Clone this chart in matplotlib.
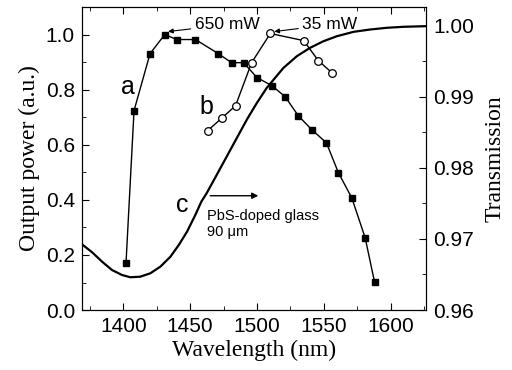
import numpy as np
import matplotlib
matplotlib.use("Agg")
import matplotlib.pyplot as plt
from matplotlib.ticker import MultipleLocator

# curve a: output power, filled squares
wl_a = [1402, 1408, 1420, 1431, 1440, 1454, 1471, 1481, 1490, 1500,
        1511, 1521, 1531, 1541, 1552, 1561, 1571, 1581, 1588]
pow_a = [0.171, 0.724, 0.931, 1.0, 0.982, 0.982, 0.931, 0.898, 0.898, 0.844,
         0.815, 0.775, 0.705, 0.655, 0.607, 0.498, 0.407, 0.262, 0.102]

# curve b: output power, open circles
wl_b = [1463, 1474, 1484, 1496, 1510, 1535, 1546, 1556]
pow_b = [0.651, 0.698, 0.742, 0.898, 1.004, 0.978, 0.905, 0.862]

# curve c: transmission of PbS-doped glass
wl_c = [1369, 1376.6, 1384.1, 1391.5, 1399, 1405.2, 1412.7, 1420.2, 1427.7,
        1435.2, 1441.5, 1447.7, 1453.9, 1458.4, 1462.4, 1469.9, 1477.4, 1484.9,
        1492.4, 1499.9, 1507.3, 1519.8, 1529.8, 1539.7, 1549.7, 1559.7, 1572.2,
        1584.7, 1597.2, 1609.6, 1626.5]
tr_c = [0.96925, 0.96813, 0.96680, 0.96563, 0.96493, 0.96461, 0.96469, 0.96517,
        0.96610, 0.96749, 0.96915, 0.97103, 0.97338, 0.97525, 0.97644, 0.97901,
        0.98159, 0.98418, 0.98676, 0.98911, 0.99123, 0.99404, 0.99568, 0.99686,
        0.99779, 0.99849, 0.99911, 0.99944, 0.99968, 0.99982, 0.99991]

sans = ['Liberation Sans', 'DejaVu Sans']
serif = ['Liberation Serif', 'DejaVu Serif']
plt.rcParams['font.family'] = sans

fig = plt.figure(figsize=(5.12, 3.7), dpi=100)
ax = fig.add_axes([0.160, 0.162, 0.672, 0.819])
ax2 = ax.twinx()

ax.plot(wl_a, pow_a, '-', color='black', lw=1, marker='s', ms=4.5,
        mfc='black', mec='black')
ax.plot(wl_b, pow_b, '-', color='black', lw=1, marker='o', ms=5.5,
        mfc='white', mec='black', mew=0.9)
ax2.plot(wl_c, tr_c, '-', color='black', lw=1.6)

ax.set_xlim(1369, 1626.5)
ax.set_ylim(0, 1.1)
ax2.set_ylim(0.96, 1.0026)

ax.xaxis.set_major_locator(MultipleLocator(50))
ax.xaxis.set_minor_locator(MultipleLocator(25))
ax.yaxis.set_major_locator(MultipleLocator(0.2))
ax.yaxis.set_minor_locator(MultipleLocator(0.1))
ax2.yaxis.set_major_locator(MultipleLocator(0.01))
ax2.yaxis.set_minor_locator(MultipleLocator(0.005))
ax.yaxis.set_major_formatter(plt.FormatStrFormatter('%.1f'))
ax2.yaxis.set_major_formatter(plt.FormatStrFormatter('%.2f'))

ax.tick_params(axis='x', which='both', direction='in', top=True, labelsize=15)
ax.tick_params(axis='y', which='both', direction='in', labelsize=15)
ax2.tick_params(axis='y', which='both', direction='in', labelsize=15)
for a in (ax, ax2):
    a.tick_params(which='major', length=5, pad=5)
    a.tick_params(which='minor', length=3)

ax.set_xlabel('Wavelength (nm)', family=serif, fontsize=17, labelpad=3)
ax.set_ylabel('Output power (a.u.)', family=serif, fontsize=17, labelpad=4)
ax2.set_ylabel('Transmission', family=serif, fontsize=17, labelpad=8)

ax.annotate('650 mW', xy=(1433.5, 1.011), xytext=(1453.5, 1.036), fontsize=12.5,
            va='center', ha='left',
            arrowprops=dict(arrowstyle='-|>', color='black', lw=0.8,
                            mutation_scale=7, shrinkA=1, shrinkB=0))
ax.annotate('35 mW', xy=(1513, 1.011), xytext=(1534, 1.036), fontsize=12.5,
            va='center', ha='left',
            arrowprops=dict(arrowstyle='-|>', color='black', lw=0.8,
                            mutation_scale=7, shrinkA=1, shrinkB=0))
ax.text(1403.7, 0.81, 'a', fontsize=18, ha='center', va='center')
ax.text(1462, 0.738, 'b', fontsize=18, ha='center', va='center')
ax.text(1444, 0.382, 'c', fontsize=18, ha='center', va='center')
ax.annotate('', xy=(1501, 0.415), xytext=(1465, 0.415),
            arrowprops=dict(arrowstyle='-|>', color='black', lw=1,
                            mutation_scale=9, shrinkA=0, shrinkB=0))
ax.text(1462.7, 0.313, 'PbS-doped glass\n90 \u03bcm', fontsize=10.5,
        ha='left', va='center', linespacing=1.15)

fig.savefig('out.png', dpi=100)
